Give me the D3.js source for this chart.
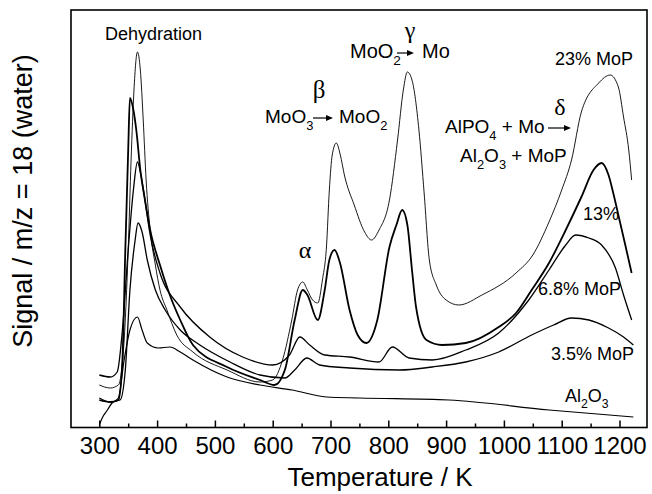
<!DOCTYPE html>
<html>
<head>
<meta charset="utf-8">
<script src="https://cdn.jsdelivr.net/npm/d3@7"></script>
<style>
  body { margin: 0; background: #fff; }
  svg text { font-family: "Liberation Sans", Arial, sans-serif; fill: #000; }
  svg text.greek { font-family: "Liberation Serif", "Times New Roman", serif; }
</style>
</head>
<body>
<div id="chart"></div>
<script>
// temperature (K), signal (arbitrary units)
const mop23 = [[300,42],[319,39],[333,42],[343,87],[350,177],[355,267],[360,337],[366,375],[371,357],[376,307],
  [381,247],[388,197],[397,162],[405,137],[417,117],[434,92],[462,75],[521,57],[578,45],[600,47],[617,67],
  [633,107],[643,137],[652,145],[660,137],[669,127],[678,124],[686,147],[693,180],[698,237],[703,272],[710,284],
  [717,272],[724,252],[741,222],[759,195],[771,187],[784,197],[802,227],[816,287],[826,337],[833,355],[841,347],
  [853,297],[862,234],[871,167],[883,142],[900,127],[922,122],[962,132],[1021,154],[1050,172],[1078,205],
  [1100,237],[1117,267],[1134,315],[1164,344],[1184,352],[1198,340],[1207,310],[1216,277],[1221,247]];

const mop13 = [[300,27],[319,25],[333,27],[340,67],[345,177],[350,277],[353,329],[359,317],[364,297],[371,257],
  [379,227],[388,197],[405,162],[422,132],[440,107],[462,82],[521,60],[578,47],[603,42],[621,57],[638,107],
  [652,137],[660,132],[678,107],[690,137],[698,167],[707,177],[716,165],[733,117],[747,92],[762,84],[781,107],
  [802,180],[814,202],[824,217],[833,202],[841,157],[848,120],[866,87],[893,82],[934,84],[991,100],[1021,114],
  [1048,137],[1078,164],[1107,197],[1134,230],[1155,257],[1169,264],[1181,252],[1190,232],[1200,207],
  [1210,182],[1221,154]];

const mop68 = [[300,52],[319,50],[331,55],[340,97],[350,177],[359,237],[366,265],[372,252],[379,227],[388,192],
  [405,154],[440,120],[491,90],[548,70],[600,62],[629,72],[647,90],[664,82],[690,72],[733,70],[784,65],
  [807,80],[836,69],[876,67],[934,77],[991,94],[1043,127],[1078,157],[1107,182],[1124,192],[1147,189],
  [1169,182],[1193,159],[1207,132],[1221,107]];

const mop35 = [[300,29],[319,25],[336,27],[345,57],[353,137],[362,187],[367,204],[374,195],[383,167],[397,137],
  [414,117],[440,97],[474,82],[526,65],[578,52],[621,49],[638,57],[659,69],[681,62],[733,59],[819,57],
  [876,60],[934,65],[991,75],[1048,92],[1086,102],[1117,109],[1147,107],[1181,99],[1207,90],[1224,82]];

const alumina = [[300,2],[305,9],[314,17],[322,24],[333,29],[343,67],[353,97],[366,110],[374,97],[383,84],
  [402,79],[422,80],[440,75],[462,67],[521,50],[578,42],[634,37],[693,30],[750,29],[905,27],[1078,17],[1224,10]];

const majorTicks = [300, 400, 500, 600, 700, 800, 900, 1000, 1100, 1200];
const minorTicks = [350, 450, 550, 650, 750, 850, 950, 1050, 1150];

const width = 652, height = 494;
const frame = { left: 71, top: 10, right: 647, bottom: 427.5 };

const svg = d3.select('#chart').append('svg')
  .attr('width', width)
  .attr('height', height);

const x = d3.scaleLinear().domain([300, 1200]).range([99.3, 619.5]);
const y = d3.scaleLinear().domain([0, 417]).range([427, 10]);

const line = d3.line()
  .x(d => x(d[0]))
  .y(d => y(d[1]))
  .curve(d3.curveMonotoneX);

const curves = [
  { data: alumina, w: 1.2 },
  { data: mop35, w: 1.3 },
  { data: mop68, w: 1.3 },
  { data: mop13, w: 1.8 },
  { data: mop23, w: 0.9 }
];

svg.append('g').selectAll('path')
  .data(curves)
  .join('path')
  .attr('d', d => line(d.data))
  .attr('fill', 'none')
  .attr('stroke', '#000')
  .attr('stroke-width', d => d.w)
  .attr('stroke-linejoin', 'round');

// inward ticks on the bottom edge
const xAxis = d3.axisBottom(x)
  .tickValues(majorTicks)
  .tickSize(-7)
  .tickPadding(9.5)
  .tickFormat(d3.format('d'));

const gx = svg.append('g')
  .attr('transform', `translate(0, ${frame.bottom})`)
  .call(xAxis);
gx.select('.domain').remove();
gx.selectAll('line').attr('stroke-width', 1.5);
gx.selectAll('text').style('font-size', '24px');

const gm = svg.append('g')
  .attr('transform', `translate(0, ${frame.bottom})`)
  .call(d3.axisBottom(x).tickValues(minorTicks).tickSize(-4).tickFormat(''));
gm.select('.domain').remove();
gm.selectAll('line').attr('stroke-width', 1.5);

svg.append('rect')
  .attr('x', frame.left)
  .attr('y', frame.top)
  .attr('width', frame.right - frame.left)
  .attr('height', frame.bottom - frame.top)
  .attr('fill', 'none')
  .attr('stroke', '#000')
  .attr('stroke-width', 1.6);

svg.append('text')
  .attr('x', 380)
  .attr('y', 486)
  .attr('text-anchor', 'middle')
  .style('font-size', '26px')
  .text('Temperature / K');

svg.append('text')
  .attr('transform', 'translate(32, 201) rotate(-90)')
  .attr('text-anchor', 'middle')
  .style('font-size', '27px')
  .text('Signal / m/z = 18 (water)');

// text with subscripts: parts are [string, isSub]
function label(px, py, parts, size) {
  const t = svg.append('text')
    .attr('x', px)
    .attr('y', py)
    .style('font-size', size + 'px');
  let down = false;
  parts.forEach(([s, sub]) => {
    const span = t.append('tspan').text(s);
    if (sub && !down) { span.attr('dy', size * 0.36).style('font-size', (size * 0.68) + 'px'); down = true; }
    else if (sub) { span.style('font-size', (size * 0.68) + 'px'); }
    else if (down) { span.attr('dy', -size * 0.36); down = false; }
  });
  return t;
}

function arrow(x1, x2, yy) {
  svg.append('line')
    .attr('x1', x1).attr('x2', x2 - 5)
    .attr('y1', yy).attr('y2', yy)
    .attr('stroke', '#000')
    .attr('stroke-width', 1.2);
  svg.append('path')
    .attr('d', `M${x2},${yy} L${x2 - 7},${yy - 3} L${x2 - 7},${yy + 3} Z`)
    .attr('fill', '#000');
}

function greek(px, py, s, size) {
  svg.append('text')
    .attr('class', 'greek')
    .attr('x', px)
    .attr('y', py)
    .attr('text-anchor', 'middle')
    .style('font-size', size + 'px')
    .text(s);
}

label(105, 40, [['Dehydration']], 18);

greek(319, 98, 'β', 25);
label(265, 123, [['MoO'], ['3', true]], 19);
arrow(313, 333, 118);
label(339, 123, [['MoO'], ['2', true]], 19);

greek(410, 38, 'γ', 24);
label(350, 58, [['MoO'], ['2', true]], 20);
arrow(397, 414, 53);
label(422, 58, [['Mo']], 20);

label(555, 65, [['23% MoP']], 18);

greek(560, 115, 'δ', 24);
label(445, 133, [['AlPO'], ['4', true], [' + Mo']], 19);
arrow(548, 571, 128);
label(460, 162, [['Al'], ['2', true], ['O'], ['3', true], [' + MoP']], 19);

greek(305, 258, 'α', 24);
label(583, 220, [['13%']], 18);
label(538, 295, [['6.8% MoP']], 18);
label(551, 360, [['3.5% MoP']], 18);
label(565, 402, [['Al'], ['2', true], ['O'], ['3', true]], 18);
</script>
</body>
</html>
